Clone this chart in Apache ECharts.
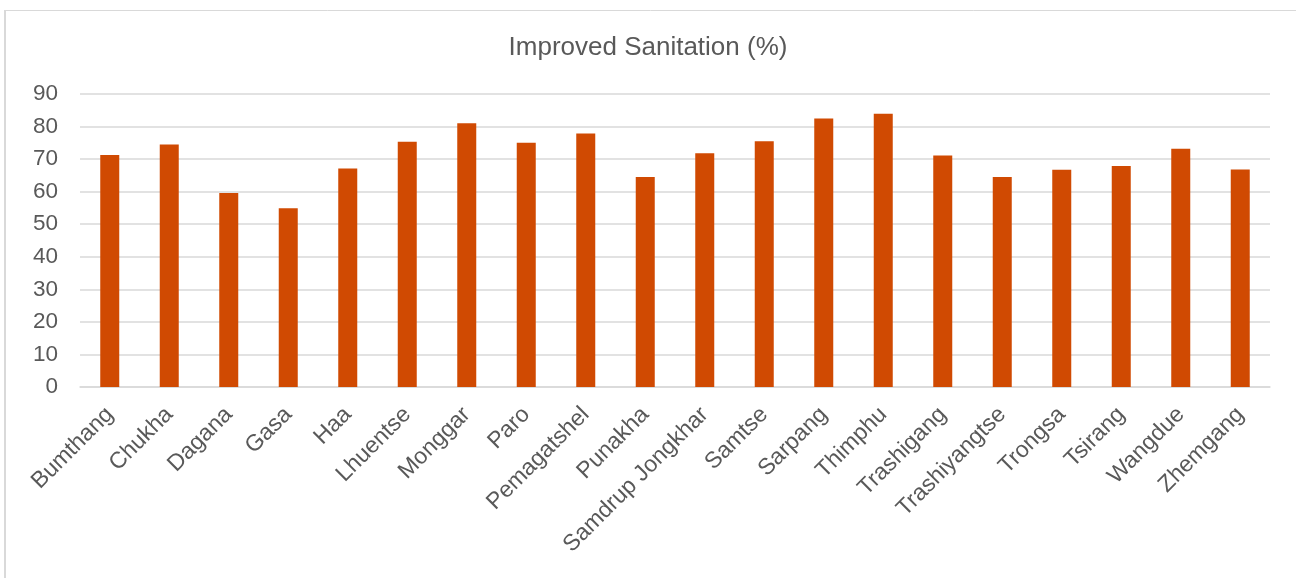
<!DOCTYPE html>
<html><head><meta charset="utf-8">
<script src="https://cdn.jsdelivr.net/npm/echarts@6/dist/echarts.min.js"></script>
<style>html,body{margin:0;padding:0;background:#fff}#c{width:1296px;height:578px}</style>
</head><body><div id="c"></div>
<script>
const categories = ["Bumthang","Chukha","Dagana","Gasa","Haa","Lhuentse","Monggar","Paro","Pemagatshel","Punakha","Samdrup Jongkhar","Samtse","Sarpang","Thimphu","Trashigang","Trashiyangtse","Trongsa","Tsirang","Wangdue","Zhemgang"];
const values = [71.3,74.5,59.6,54.9,67.1,75.3,81.0,75.0,77.9,64.5,71.8,75.5,82.5,83.9,71.1,64.5,66.7,67.9,73.2,66.8];
const yTicks = [0,10,20,30,40,50,60,70,80,90];
const titleText = "Improved Sanitation (%)";

const chart = echarts.init(document.getElementById('c'));
chart.setOption({
  animation:false,
  backgroundColor:'#fff',
  graphic:[
    {type:'line',shape:{x1:5,y1:10.5,x2:1296,y2:10.5},style:{stroke:'#d9d9d9',lineWidth:1}},
    {type:'line',shape:{x1:5,y1:10,x2:5,y2:578},style:{stroke:'#d9d9d9',lineWidth:2}}
  ],
  title:{text:titleText,left:'center',top:30,textStyle:{fontFamily:'Liberation Sans',fontSize:26,fontWeight:'normal',color:'#595959'}},
  grid:{left:80,right:26,top:94,bottom:191},
  xAxis:{type:'category',data:categories,
    axisLine:{lineStyle:{color:'#d9d9d9',width:1.5}},axisTick:{show:false},
    axisLabel:{rotate:45,interval:0,fontFamily:'Liberation Sans',fontSize:23,color:'#595959',margin:24}},
  yAxis:{type:'value',min:0,max:90,interval:10,
    axisLine:{show:false},axisTick:{show:false},
    splitLine:{lineStyle:{color:'#d9d9d9',width:1.5}},
    axisLabel:{fontFamily:'Liberation Sans',fontSize:22.5,color:'#595959',margin:22,
      formatter:v=>yTicks.includes(v)?String(v):''}},
  series:[{type:'bar',data:values,barWidth:19,itemStyle:{color:'#d04a02'}}]
});
</script></body></html>
